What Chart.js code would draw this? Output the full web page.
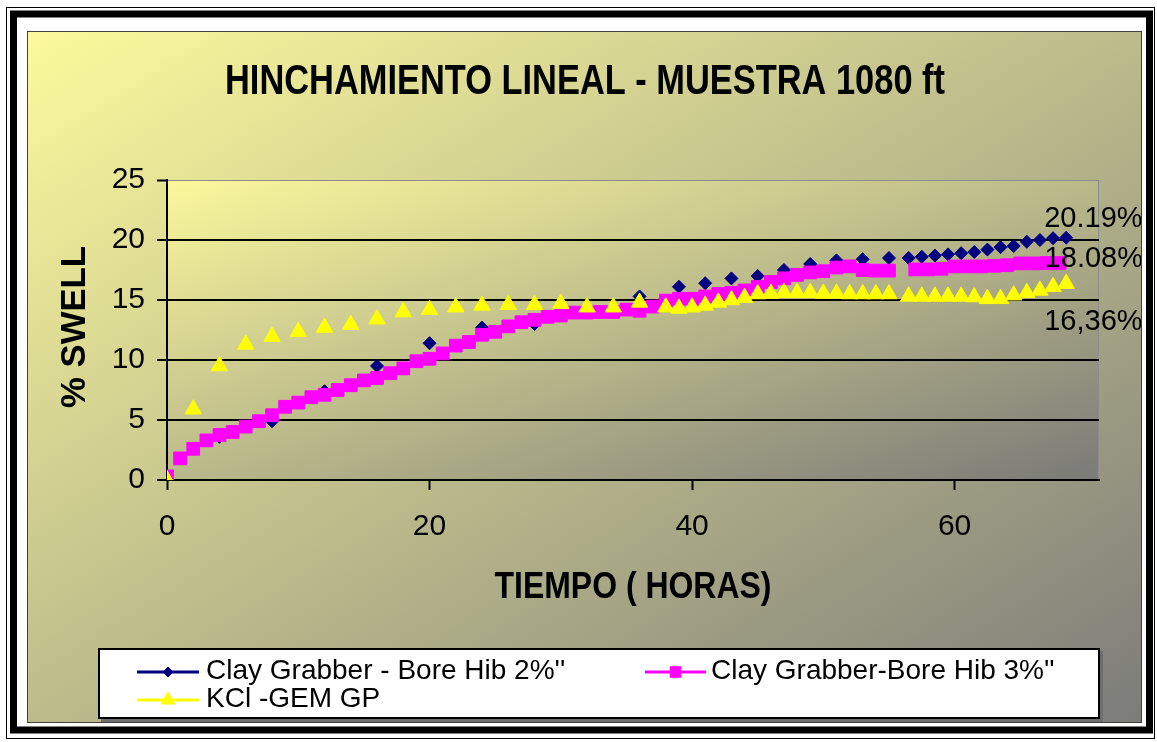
<!DOCTYPE html>
<html>
<head>
<meta charset="utf-8">
<title>Hinchamiento lineal - Muestra 1080 ft</title>
<script src="https://cdn.jsdelivr.net/npm/chart.js@4.4.1/dist/chart.umd.min.js"></script>
<style>
  html, body { margin: 0; padding: 0; background: #fff; }
  canvas { display: block; }
</style>
</head>
<body>
<canvas id="swellChart" width="1157" height="742"></canvas>
<script>
// Hinchamiento lineal (% swell) vs tiempo, muestra 1080 ft
const seriesNames = ["Clay Grabber - Bore Hib 2%''", "Clay Grabber-Bore Hib 3%''", 'KCl -GEM GP'];
const seriesColors = ['#000080', '#ff00ff', '#ffff00'];
const labelDecimalSep = ['.', '.', ','];

const xTicks = [0, 20, 40, 60];
const yTicks = [0, 5, 10, 15, 20, 25];

const hoursBoreHib2 = [0, 4, 8, 12, 16, 20, 24, 28, 32, 36, 39, 41, 43, 45, 47, 49, 51, 53, 55,
  56.5, 57.5, 58.5, 59.5, 60.5, 61.5, 62.5, 63.5, 64.5, 65.5, 66.5, 67.5, 68.5];
const swellBoreHib2 = [0, 3.6, 4.9, 7.4, 9.5, 11.4, 12.7, 13.0, 14.2, 15.3, 16.1, 16.4, 16.8, 17.0, 17.5, 18.0, 18.3, 18.4, 18.5,
  18.5, 18.6, 18.7, 18.8, 18.9, 19.0, 19.2, 19.4, 19.5, 19.85, 20.0, 20.15, 20.19];

const hoursBoreHib3 = [0, 1, 2, 3, 4, 5, 6, 7, 8, 9, 10, 11, 12, 13, 14, 15, 16, 17, 18, 19,
  20, 21, 22, 23, 24, 25, 26, 27, 28, 29, 30, 31, 32, 33, 34, 35, 36, 37, 38, 39,
  40, 41, 42, 43, 44, 45, 46, 47, 48, 49, 50, 51, 52, 53, 54, 55,
  57, 58, 59, 60, 61, 62, 63, 64, 65, 66, 67, 68];
const swellBoreHib3 = [0.3, 1.8, 2.6, 3.3, 3.75, 4.0, 4.45, 4.9, 5.4, 6.1, 6.45, 6.9, 7.1, 7.5, 7.9, 8.3, 8.5, 8.9, 9.3, 9.9,
  10.1, 10.55, 11.2, 11.5, 12.1, 12.35, 12.8, 13.15, 13.35, 13.6, 13.7, 13.95, 13.95, 14.0, 14.0, 14.2, 14.1, 14.45, 14.95, 15.1,
  15.1, 15.3, 15.5, 15.6, 15.8, 16.1, 16.5, 16.8, 17.1, 17.3, 17.4, 17.7, 17.8, 17.5, 17.45, 17.45,
  17.55, 17.55, 17.6, 17.8, 17.8, 17.8, 17.85, 17.9, 18.05, 18.05, 18.08, 18.08];

const hoursKcl = [0, 2, 4, 6, 8, 10, 12, 14, 16, 18, 20, 22, 24, 26, 28, 30, 32, 34, 36,
  38, 39, 40, 41, 42, 43, 44, 45, 46, 47, 48, 49, 50, 51, 52, 53, 54, 55,
  56.5, 57.5, 58.5, 59.5, 60.5, 61.5, 62.5, 63.5, 64.5, 65.5, 66.5, 67.5, 68.5];
const swellKcl = [0, 5.9, 9.5, 11.3, 11.95, 12.35, 12.7, 12.95, 13.4, 14.0, 14.2, 14.4, 14.55, 14.6, 14.6, 14.7, 14.4, 14.4, 14.8,
  14.4, 14.3, 14.4, 14.55, 14.8, 15.0, 15.2, 15.5, 15.55, 15.6, 15.6, 15.6, 15.55, 15.55, 15.5, 15.5, 15.5, 15.5,
  15.3, 15.3, 15.3, 15.3, 15.3, 15.25, 15.1, 15.1, 15.4, 15.6, 15.8, 16.1, 16.36];

const FONT = '"Liberation Sans", Arial, sans-serif';

function points(hours, swell) {
  return hours.map((h, i) => ({ x: h, y: swell[i] }));
}

// Excel-style two colour diagonal fill, stretched over the box
function diagonalFill(ctx, x, y, w, h, from, to) {
  ctx.save();
  ctx.translate(x, y);
  ctx.scale(w, h);
  const g = ctx.createLinearGradient(0, 0, 1, 1);
  g.addColorStop(0, from);
  g.addColorStop(1, to);
  ctx.fillStyle = g;
  ctx.fillRect(0, 0, 1, 1);
  ctx.restore();
}

// text squeezed/stretched to a given width
function fittedText(ctx, text, cx, cy, font, width, vertical) {
  ctx.save();
  ctx.font = font;
  const w = ctx.measureText(text).width;
  ctx.translate(cx, cy);
  if (vertical) ctx.rotate(-Math.PI / 2);
  ctx.scale(width / w, 1);
  ctx.textAlign = 'center';
  ctx.textBaseline = 'middle';
  ctx.fillStyle = '#000';
  ctx.fillText(text, 0, 0);
  ctx.restore();
}

const markerStyles = [
  { pointStyle: 'rectRot', radius: 6.5 },
  { pointStyle: 'rect', radius: 9 },
  { pointStyle: 'triangle', radius: 9.5 }
];

const backgroundPlugin = {
  id: 'background',
  beforeDraw(chart) {
    const ctx = chart.ctx;
    const a = chart.chartArea;
    ctx.save();
    ctx.fillStyle = '#fff';
    ctx.fillRect(0, 0, chart.width, chart.height);
    ctx.strokeStyle = '#000';
    ctx.lineWidth = 1;
    ctx.strokeRect(6.5, 7.5, 1148, 731);
    ctx.lineWidth = 7;
    ctx.strokeRect(13.5, 14, 1136, 716);
    diagonalFill(ctx, 28, 32, 1113, 690, '#fcfa9c', '#7c7c7a');
    ctx.lineWidth = 1;
    ctx.strokeStyle = '#404040';
    ctx.strokeRect(27.5, 31.5, 1114, 691);
    diagonalFill(ctx, a.left, a.top, a.right - a.left, a.bottom - a.top, '#fbf89c', '#7a7a78');
    ctx.strokeStyle = '#8c8c8c';
    ctx.strokeRect(a.left + 0.5, a.top + 0.5, a.right - a.left - 1, a.bottom - a.top);
    ctx.restore();
  }
};

const annotationPlugin = {
  id: 'annotations',
  afterDraw(chart) {
    const ctx = chart.ctx;
    const helpers = Chart.helpers;

    fittedText(ctx, 'HINCHAMIENTO LINEAL - MUESTRA 1080 ft', 585, 82, 'bold 42px ' + FONT, 720, false);
    fittedText(ctx, 'TIEMPO ( HORAS)', 633, 588, 'bold 36px ' + FONT, 277, false);
    fittedText(ctx, '% SWELL', 75, 327, 'bold 35px ' + FONT, 162, true);

    // value labels on the last point of each series
    const offsets = [{ dx: -22, dy: -19 }, { dx: -15, dy: -4 }, { dx: -22, dy: 38 }];
    ctx.save();
    ctx.beginPath();
    ctx.rect(28, 32, 1113, 690);
    ctx.clip();
    ctx.font = '29px ' + FONT;
    ctx.fillStyle = '#000';
    ctx.textAlign = 'left';
    ctx.textBaseline = 'middle';
    chart.data.datasets.forEach((ds, i) => {
      const meta = chart.getDatasetMeta(i);
      const last = meta.data[meta.data.length - 1];
      const value = ds.data[ds.data.length - 1].y;
      const text = value.toFixed(2).replace('.', labelDecimalSep[i]) + '%';
      ctx.fillText(text, last.x + offsets[i].dx, last.y + offsets[i].dy);
    });
    ctx.restore();

    // legend box
    ctx.save();
    ctx.fillStyle = '#6e6e6e';
    ctx.fillRect(101, 651, 1002, 71);
    ctx.fillStyle = '#fff';
    ctx.fillRect(98, 648, 1002, 71);
    ctx.strokeStyle = '#000';
    ctx.lineWidth = 2;
    ctx.strokeRect(99, 649, 1000, 69);

    const entries = [
      { x0: 137, x1: 199, y: 672, tx: 206 },
      { x0: 645, x1: 706, y: 672, tx: 711 },
      { x0: 137, x1: 199, y: 700, tx: 206 }
    ];
    entries.forEach((e, i) => {
      ctx.strokeStyle = seriesColors[i];
      ctx.lineWidth = 3;
      ctx.beginPath();
      ctx.moveTo(e.x0, e.y);
      ctx.lineTo(e.x1, e.y);
      ctx.stroke();
      ctx.fillStyle = seriesColors[i];
      ctx.lineWidth = 1;
      helpers.drawPoint(ctx, { pointStyle: markerStyles[i].pointStyle, radius: markerStyles[i].radius - 1.5, rotation: 0, borderWidth: 1 },
        (e.x0 + e.x1) / 2, e.y);
      ctx.fillStyle = '#000';
      ctx.font = '28px ' + FONT;
      ctx.textAlign = 'left';
      ctx.textBaseline = 'middle';
      ctx.fillText(seriesNames[i], e.tx, e.y - 1);
    });
    ctx.restore();
  }
};

const series = [
  [hoursBoreHib2, swellBoreHib2],
  [hoursBoreHib3, swellBoreHib3],
  [hoursKcl, swellKcl]
];

new Chart(document.getElementById('swellChart'), {
  type: 'scatter',
  data: {
    datasets: series.map(([h, s], i) => ({
      label: seriesNames[i],
      data: points(h, s),
      showLine: false,
      pointStyle: markerStyles[i].pointStyle,
      pointRadius: markerStyles[i].radius,
      pointBackgroundColor: seriesColors[i],
      pointBorderColor: seriesColors[i],
      pointBorderWidth: 1,
      order: 3 - i
    }))
  },
  options: {
    responsive: false,
    devicePixelRatio: 1,
    animation: false,
    events: [],
    layout: { padding: { left: 0, top: 180, right: 58, bottom: 0 } },
    plugins: {
      legend: { display: false },
      tooltip: { enabled: false },
      title: { display: false }
    },
    scales: {
      x: {
        type: 'linear',
        min: 0,
        max: 71,
        afterBuildTicks: s => { s.ticks = xTicks.map(v => ({ value: v })); },
        afterFit: s => { s.height = 262; },
        border: { display: true, color: '#000', width: 2 },
        grid: { drawOnChartArea: false, drawTicks: true, tickLength: 10, tickColor: '#000', tickWidth: 2 },
        ticks: { color: '#000', font: { family: FONT, size: 30 }, padding: 19, maxRotation: 0 }
      },
      y: {
        min: 0,
        max: 25,
        afterBuildTicks: s => { s.ticks = yTicks.map(v => ({ value: v })); },
        afterFit: s => { s.width = 167; },
        border: { display: true, color: '#000', width: 2 },
        grid: {
          color: c => (c.tick && c.tick.value === 25 ? '#8c8c8c' : '#000'),
          lineWidth: c => (c.tick && c.tick.value === 25 ? 1 : 2),
          drawTicks: true,
          tickLength: 10,
          tickColor: '#000',
          tickWidth: 2
        },
        ticks: { color: '#000', font: { family: FONT, size: 30 }, padding: 12 }
      }
    }
  },
  plugins: [backgroundPlugin, annotationPlugin]
});
</script>
</body>
</html>
